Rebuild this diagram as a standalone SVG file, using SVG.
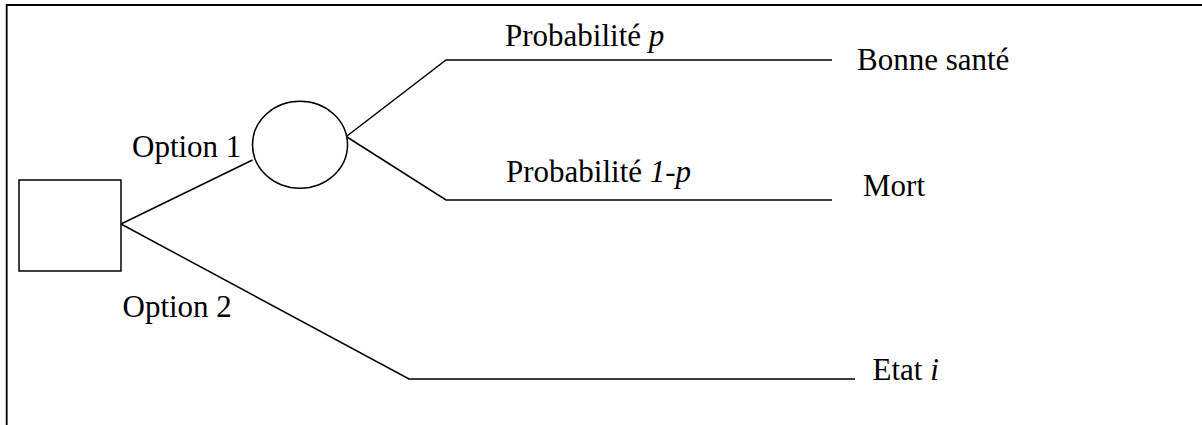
<svg xmlns="http://www.w3.org/2000/svg" width="1202" height="425" viewBox="0 0 1202 425">
  <style>
    .ln { stroke: #000; stroke-width: 1.5; fill: none; }
    .nd { stroke: #000; stroke-width: 1.5; fill: #fff; }
    .tx { font-family: "Liberation Serif", "Times New Roman", serif; font-size: 31px; fill: #000; }
    .it { font-style: italic; }
  </style>
  <rect width="1202" height="425" fill="#fff"/>

  <!-- open frame: top and left edges -->
  <g id="frame">
    <path d="M6.7,425 V5 H1202" stroke="#000" stroke-width="1.8" fill="none"/>
  </g>

  <!-- branches of the tree -->
  <g id="connectors">
    <path class="ln" d="M121,224 L252.5,160"/>
    <path class="ln" d="M121,224 L409,379 H855"/>
    <path class="ln" d="M347,136 L446,60 H832"/>
    <path class="ln" d="M347,137 L446,200 H832"/>
  </g>

  <g id="decision">
    <rect class="nd" x="19" y="180" width="102" height="91"/>
  </g>

  <g id="chance">
    <ellipse class="nd" cx="300" cy="144.7" rx="47.5" ry="43.5"/>
  </g>

  <g id="labels">
    <text class="tx" x="132" y="157">Option 1</text>
    <text class="tx" x="122.5" y="317">Option 2</text>
    <text class="tx" x="505" y="46">Probabilité <tspan class="it">p</tspan></text>
    <text class="tx" x="506" y="182">Probabilité <tspan class="it">1-p</tspan></text>
  </g>

  <g id="outcome-good">
    <text class="tx" x="857" y="70">Bonne santé</text>
  </g>
  <g id="outcome-death">
    <text class="tx" x="863" y="196">Mort</text>
  </g>
  <g id="outcome-state">
    <text class="tx" x="872.5" y="380">Etat <tspan class="it">i</tspan></text>
  </g>
</svg>
